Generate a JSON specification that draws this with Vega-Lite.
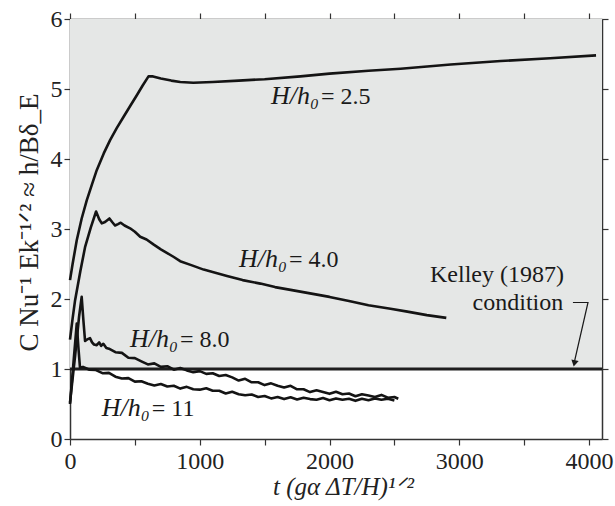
{
  "$schema": "https://vega.github.io/schema/vega-lite/v6.json",
  "width": 532,
  "height": 420,
  "autosize": {"type": "none"},
  "padding": {"left": 70, "top": 19, "right": 13, "bottom": 67},
  "background": "white",
  "config": {
    "view": {"stroke": null},
    "font": "Liberation Serif",
    "axis": {
      "grid": false,
      "domainColor": "#333333",
      "tickColor": "#333333",
      "domainWidth": 1.5,
      "tickWidth": 1.2,
      "tickSize": 6,
      "labelColor": "#222222",
      "labelFontSize": 24,
      "labelFont": "Liberation Serif",
      "titleFont": "Liberation Serif",
      "titleFontSize": 24,
      "titleFontWeight": "normal",
      "titleColor": "#222222",
      "labelOverlap": false,
      "labelFlush": false
    }
  },
  "datasets": {
    "bg": [{"t": 0, "t2": 4100, "y": 1, "y2": 6}],
    "ref": [{"t": 0, "y": 1}, {"t": 4100, "y": 1}],
    "curves": [
      {"c": "2.5", "t": 0, "y": 2.27}, {"c": "2.5", "t": 20, "y": 2.5}, {"c": "2.5", "t": 52, "y": 2.84}, {"c": "2.5", "t": 90, "y": 3.15},
      {"c": "2.5", "t": 129, "y": 3.41}, {"c": "2.5", "t": 170, "y": 3.64}, {"c": "2.5", "t": 206, "y": 3.84}, {"c": "2.5", "t": 260, "y": 4.08},
      {"c": "2.5", "t": 309, "y": 4.27}, {"c": "2.5", "t": 360, "y": 4.44}, {"c": "2.5", "t": 412, "y": 4.6}, {"c": "2.5", "t": 465, "y": 4.76},
      {"c": "2.5", "t": 515, "y": 4.91}, {"c": "2.5", "t": 560, "y": 5.05}, {"c": "2.5", "t": 605, "y": 5.18}, {"c": "2.5", "t": 640, "y": 5.18},
      {"c": "2.5", "t": 700, "y": 5.15}, {"c": "2.5", "t": 780, "y": 5.12}, {"c": "2.5", "t": 850, "y": 5.1}, {"c": "2.5", "t": 950, "y": 5.09},
      {"c": "2.5", "t": 1100, "y": 5.1}, {"c": "2.5", "t": 1300, "y": 5.12}, {"c": "2.5", "t": 1500, "y": 5.14}, {"c": "2.5", "t": 1776, "y": 5.18},
      {"c": "2.5", "t": 2000, "y": 5.22}, {"c": "2.5", "t": 2300, "y": 5.26}, {"c": "2.5", "t": 2548, "y": 5.29}, {"c": "2.5", "t": 2934, "y": 5.35},
      {"c": "2.5", "t": 3320, "y": 5.4}, {"c": "2.5", "t": 3700, "y": 5.44}, {"c": "2.5", "t": 4054, "y": 5.48},

      {"c": "4.0", "t": 0, "y": 1.42}, {"c": "4.0", "t": 20, "y": 1.72}, {"c": "4.0", "t": 39, "y": 1.98}, {"c": "4.0", "t": 80, "y": 2.4},
      {"c": "4.0", "t": 116, "y": 2.74}, {"c": "4.0", "t": 160, "y": 3.02}, {"c": "4.0", "t": 201, "y": 3.25}, {"c": "4.0", "t": 225, "y": 3.14},
      {"c": "4.0", "t": 245, "y": 3.08}, {"c": "4.0", "t": 270, "y": 3.1}, {"c": "4.0", "t": 304, "y": 3.15}, {"c": "4.0", "t": 325, "y": 3.1},
      {"c": "4.0", "t": 347, "y": 3.05}, {"c": "4.0", "t": 370, "y": 3.07}, {"c": "4.0", "t": 391, "y": 3.09}, {"c": "4.0", "t": 420, "y": 3.05},
      {"c": "4.0", "t": 463, "y": 3.01}, {"c": "4.0", "t": 500, "y": 2.96}, {"c": "4.0", "t": 541, "y": 2.89}, {"c": "4.0", "t": 590, "y": 2.85},
      {"c": "4.0", "t": 643, "y": 2.78}, {"c": "4.0", "t": 700, "y": 2.71}, {"c": "4.0", "t": 746, "y": 2.66}, {"c": "4.0", "t": 800, "y": 2.6},
      {"c": "4.0", "t": 849, "y": 2.54}, {"c": "4.0", "t": 940, "y": 2.48}, {"c": "4.0", "t": 1030, "y": 2.42}, {"c": "4.0", "t": 1120, "y": 2.375},
      {"c": "4.0", "t": 1210, "y": 2.33}, {"c": "4.0", "t": 1330, "y": 2.27}, {"c": "4.0", "t": 1467, "y": 2.22}, {"c": "4.0", "t": 1580, "y": 2.17},
      {"c": "4.0", "t": 1700, "y": 2.13}, {"c": "4.0", "t": 1850, "y": 2.08}, {"c": "4.0", "t": 2000, "y": 2.03}, {"c": "4.0", "t": 2150, "y": 1.97},
      {"c": "4.0", "t": 2300, "y": 1.91}, {"c": "4.0", "t": 2470, "y": 1.86}, {"c": "4.0", "t": 2600, "y": 1.82}, {"c": "4.0", "t": 2750, "y": 1.77},
      {"c": "4.0", "t": 2900, "y": 1.73},

      {"c": "8.0", "t": 0, "y": 0.52}, {"c": "8.0", "t": 40, "y": 1.2}, {"c": "8.0", "t": 70, "y": 1.75}, {"c": "8.0", "t": 90, "y": 2.03},
      {"c": "8.0", "t": 103, "y": 1.7}, {"c": "8.0", "t": 116, "y": 1.4}, {"c": "8.0", "t": 130, "y": 1.42}, {"c": "8.0", "t": 141, "y": 1.43},
      {"c": "8.0", "t": 154, "y": 1.44}, {"c": "8.0", "t": 170, "y": 1.38}, {"c": "8.0", "t": 185, "y": 1.35}, {"c": "8.0", "t": 206, "y": 1.34},
      {"c": "8.0", "t": 225, "y": 1.38}, {"c": "8.0", "t": 240, "y": 1.33}, {"c": "8.0", "t": 257, "y": 1.36}, {"c": "8.0", "t": 280, "y": 1.3},
      {"c": "8.0", "t": 300, "y": 1.29}, {"c": "8.0", "t": 350, "y": 1.24}, {"c": "8.0", "t": 400, "y": 1.23}, {"c": "8.0", "t": 450, "y": 1.16},
      {"c": "8.0", "t": 500, "y": 1.155}, {"c": "8.0", "t": 550, "y": 1.11}, {"c": "8.0", "t": 600, "y": 1.065}, {"c": "8.0", "t": 650, "y": 1.08},
      {"c": "8.0", "t": 700, "y": 1.03}, {"c": "8.0", "t": 750, "y": 1.04}, {"c": "8.0", "t": 800, "y": 0.99}, {"c": "8.0", "t": 850, "y": 1.015},
      {"c": "8.0", "t": 900, "y": 0.98}, {"c": "8.0", "t": 950, "y": 0.955}, {"c": "8.0", "t": 1000, "y": 0.97}, {"c": "8.0", "t": 1050, "y": 0.93},
      {"c": "8.0", "t": 1100, "y": 0.94}, {"c": "8.0", "t": 1150, "y": 0.9}, {"c": "8.0", "t": 1200, "y": 0.915}, {"c": "8.0", "t": 1250, "y": 0.88},
      {"c": "8.0", "t": 1300, "y": 0.835}, {"c": "8.0", "t": 1350, "y": 0.86}, {"c": "8.0", "t": 1400, "y": 0.81}, {"c": "8.0", "t": 1450, "y": 0.81},
      {"c": "8.0", "t": 1500, "y": 0.77}, {"c": "8.0", "t": 1550, "y": 0.795}, {"c": "8.0", "t": 1600, "y": 0.76}, {"c": "8.0", "t": 1650, "y": 0.735},
      {"c": "8.0", "t": 1700, "y": 0.76}, {"c": "8.0", "t": 1750, "y": 0.71}, {"c": "8.0", "t": 1800, "y": 0.71}, {"c": "8.0", "t": 1850, "y": 0.67},
      {"c": "8.0", "t": 1900, "y": 0.695}, {"c": "8.0", "t": 1950, "y": 0.67}, {"c": "8.0", "t": 2000, "y": 0.645}, {"c": "8.0", "t": 2050, "y": 0.675},
      {"c": "8.0", "t": 2100, "y": 0.64}, {"c": "8.0", "t": 2150, "y": 0.65}, {"c": "8.0", "t": 2200, "y": 0.61}, {"c": "8.0", "t": 2250, "y": 0.64},
      {"c": "8.0", "t": 2300, "y": 0.62}, {"c": "8.0", "t": 2350, "y": 0.6}, {"c": "8.0", "t": 2400, "y": 0.63}, {"c": "8.0", "t": 2450, "y": 0.59},
      {"c": "8.0", "t": 2500, "y": 0.6}, {"c": "8.0", "t": 2530, "y": 0.575},

      {"c": "11", "t": 0, "y": 0.5}, {"c": "11", "t": 25, "y": 1.05}, {"c": "11", "t": 52, "y": 1.65}, {"c": "11", "t": 65, "y": 1.3},
      {"c": "11", "t": 77, "y": 1.02}, {"c": "11", "t": 100, "y": 1.03}, {"c": "11", "t": 150, "y": 0.99}, {"c": "11", "t": 200, "y": 0.985},
      {"c": "11", "t": 250, "y": 0.94}, {"c": "11", "t": 300, "y": 0.945}, {"c": "11", "t": 350, "y": 0.89}, {"c": "11", "t": 400, "y": 0.865},
      {"c": "11", "t": 450, "y": 0.87}, {"c": "11", "t": 500, "y": 0.82}, {"c": "11", "t": 550, "y": 0.825}, {"c": "11", "t": 600, "y": 0.79},
      {"c": "11", "t": 650, "y": 0.765}, {"c": "11", "t": 700, "y": 0.785}, {"c": "11", "t": 750, "y": 0.75}, {"c": "11", "t": 800, "y": 0.76},
      {"c": "11", "t": 850, "y": 0.72}, {"c": "11", "t": 900, "y": 0.745}, {"c": "11", "t": 950, "y": 0.71}, {"c": "11", "t": 1000, "y": 0.705},
      {"c": "11", "t": 1050, "y": 0.725}, {"c": "11", "t": 1100, "y": 0.69}, {"c": "11", "t": 1150, "y": 0.69}, {"c": "11", "t": 1200, "y": 0.65},
      {"c": "11", "t": 1250, "y": 0.675}, {"c": "11", "t": 1300, "y": 0.64}, {"c": "11", "t": 1350, "y": 0.625}, {"c": "11", "t": 1400, "y": 0.635},
      {"c": "11", "t": 1450, "y": 0.6}, {"c": "11", "t": 1500, "y": 0.615}, {"c": "11", "t": 1550, "y": 0.58}, {"c": "11", "t": 1600, "y": 0.6},
      {"c": "11", "t": 1650, "y": 0.57}, {"c": "11", "t": 1700, "y": 0.595}, {"c": "11", "t": 1750, "y": 0.565}, {"c": "11", "t": 1800, "y": 0.59},
      {"c": "11", "t": 1850, "y": 0.57}, {"c": "11", "t": 1900, "y": 0.56}, {"c": "11", "t": 1950, "y": 0.585}, {"c": "11", "t": 2000, "y": 0.555},
      {"c": "11", "t": 2050, "y": 0.58}, {"c": "11", "t": 2100, "y": 0.56}, {"c": "11", "t": 2150, "y": 0.575}, {"c": "11", "t": 2200, "y": 0.545},
      {"c": "11", "t": 2250, "y": 0.575}, {"c": "11", "t": 2300, "y": 0.555}, {"c": "11", "t": 2350, "y": 0.58}, {"c": "11", "t": 2400, "y": 0.56},
      {"c": "11", "t": 2450, "y": 0.575}, {"c": "11", "t": 2500, "y": 0.55}
    ],
    "curvelabels": [
      {"var": "H/h₀", "val": "= 2.5", "t": 1934, "y": 4.78},
      {"var": "H/h₀", "val": "= 4.0", "t": 1688, "y": 2.46},
      {"var": "H/h₀", "val": "= 8.0", "t": 848, "y": 1.31},
      {"var": "H/h₀", "val": "= 11", "t": 630, "y": 0.33}
    ],
    "notes": [
      {"text": "Kelley (1987)", "t": 3291, "y": 2.24},
      {"text": "condition", "t": 3452, "y": 1.84}
    ],
    "arrow": [
      {"i": 1, "t": 3876, "y": 1.95},
      {"i": 2, "t": 3992, "y": 1.95},
      {"i": 3, "t": 3887, "y": 1.1}
    ],
    "head": [{"t": 3887, "y": 1.08}]
  },
  "layer": [
    {
      "data": {"name": "bg"},
      "mark": {"type": "rect", "color": "#e5e7e6"},
      "encoding": {
        "x": {"field": "t", "type": "quantitative", "scale": {"domain": [0, 4100], "nice": false, "zero": false},
          "axis": {"orient": "bottom", "values": [0, 500, 1000, 1500, 2000, 2500, 3000, 3500, 4000], "format": "d",
            "labelExpr": "datum.value % 1000 === 0 ? datum.label : ''", "labelPadding": 4,
            "title": "t (gα ΔT/H)¹ᐟ²", "titleX": 273, "titleY": 47, "titleBaseline": "middle", "titleAlign": "center", "titleFontStyle": "italic", "titleFontSize": 25}},
        "x2": {"field": "t2"},
        "y": {"field": "y", "type": "quantitative", "scale": {"domain": [0, 6], "nice": false, "zero": false},
          "axis": {"orient": "left", "values": [0, 1, 2, 3, 4, 5, 6], "labelPadding": 2,
            "title": "C Nu⁻¹ Ek⁻¹ᐟ² ≈ h/Bδ_E", "titleX": -41, "titleY": 203, "titleAngle": -90, "titleBaseline": "middle", "titleAlign": "center", "titleFontSize": 27}},
        "y2": {"field": "y2"}
      }
    },
    {
      "data": {"name": "ref"},
      "mark": {"type": "line", "color": "#1f1f1f", "strokeWidth": 3.2},
      "encoding": {
        "x": {"field": "t", "type": "quantitative", "scale": {"domain": [0, 4100], "nice": false, "zero": false},
          "axis": {"orient": "top", "values": [0, 500, 1000, 1500, 2000, 2500, 3000, 3500, 4000], "labels": false, "title": null}},
        "y": {"field": "y", "type": "quantitative", "scale": {"domain": [0, 6], "nice": false, "zero": false},
          "axis": {"orient": "right", "values": [0, 1, 2, 3, 4, 5, 6], "labels": false, "title": null}}
      }
    },
    {
      "data": {"name": "curves"},
      "mark": {"type": "line", "color": "#141414", "strokeWidth": 2.6, "strokeJoin": "round"},
      "encoding": {
        "x": {"field": "t", "type": "quantitative", "scale": {"domain": [0, 4100], "nice": false, "zero": false}, "axis": null},
        "y": {"field": "y", "type": "quantitative", "scale": {"domain": [0, 6], "nice": false, "zero": false}, "axis": null},
        "detail": {"field": "c"}
      }
    },
    {
      "data": {"name": "arrow"},
      "mark": {"type": "line", "color": "#1a1a1a", "strokeWidth": 1.2},
      "encoding": {
        "x": {"field": "t", "type": "quantitative", "scale": {"domain": [0, 4100], "nice": false, "zero": false}, "axis": null},
        "y": {"field": "y", "type": "quantitative", "scale": {"domain": [0, 6], "nice": false, "zero": false}, "axis": null},
        "order": {"field": "i"}
      }
    },
    {
      "data": {"name": "head"},
      "mark": {"type": "point", "shape": "triangle-down", "filled": true, "color": "#1a1a1a", "size": 55, "angle": 12, "opacity": 1},
      "encoding": {
        "x": {"field": "t", "type": "quantitative", "scale": {"domain": [0, 4100], "nice": false, "zero": false}, "axis": null},
        "y": {"field": "y", "type": "quantitative", "scale": {"domain": [0, 6], "nice": false, "zero": false}, "axis": null}
      }
    },
    {
      "data": {"name": "curvelabels"},
      "mark": {"type": "text", "fontSize": 26, "fontStyle": "italic", "color": "#1a1a1a", "baseline": "alphabetic", "align": "right", "dx": -2, "font": "Liberation Serif"},
      "encoding": {
        "x": {"field": "t", "type": "quantitative", "scale": {"domain": [0, 4100], "nice": false, "zero": false}, "axis": null},
        "y": {"field": "y", "type": "quantitative", "scale": {"domain": [0, 6], "nice": false, "zero": false}, "axis": null},
        "text": {"field": "var"}
      }
    },
    {
      "data": {"name": "curvelabels"},
      "mark": {"type": "text", "fontSize": 24, "color": "#1a1a1a", "baseline": "alphabetic", "align": "left", "dx": 0, "font": "Liberation Serif"},
      "encoding": {
        "x": {"field": "t", "type": "quantitative", "scale": {"domain": [0, 4100], "nice": false, "zero": false}, "axis": null},
        "y": {"field": "y", "type": "quantitative", "scale": {"domain": [0, 6], "nice": false, "zero": false}, "axis": null},
        "text": {"field": "val"}
      }
    },
    {
      "data": {"name": "notes"},
      "mark": {"type": "text", "fontSize": 24, "color": "#1a1a1a", "baseline": "alphabetic", "align": "center", "font": "Liberation Serif"},
      "encoding": {
        "x": {"field": "t", "type": "quantitative", "scale": {"domain": [0, 4100], "nice": false, "zero": false}, "axis": null},
        "y": {"field": "y", "type": "quantitative", "scale": {"domain": [0, 6], "nice": false, "zero": false}, "axis": null},
        "text": {"field": "text"}
      }
    }
  ],
  "resolve": {"axis": {"x": "independent", "y": "independent"}}
}
